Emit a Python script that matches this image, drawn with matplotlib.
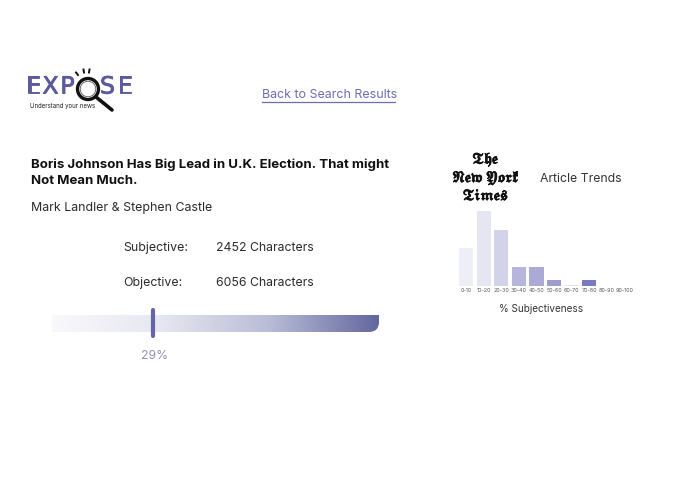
import numpy as np
import matplotlib
matplotlib.use('Agg')
import matplotlib.pyplot as plt
import matplotlib.patheffects as pe
from matplotlib.colors import LinearSegmentedColormap
from matplotlib.patches import Circle, PathPatch
from matplotlib.path import Path

W, H = 695, 494

bins = ['0-10', '10-20', '20-30', '30-40', '40-50', '50-60', '60-70', '70-80', '80-90', '90-100']
counts = [6, 12, 9, 3, 3, 1, 0.1, 1, 0, 0]
bar_colors = ['#eeeef6', '#e6e6f3', '#d2d2e8', '#b6b6dc', '#abaad6', '#9d9dcf', '#e0e0ee', '#7a7abf', '#ffffff', '#ffffff']

subjective_chars = 2452
objective_chars = 6056
subjective_pct = 29
gradient_stops = ['#f9f9fc', '#e6e7f0', '#b9bcd6', '#62679f']

title = 'Boris Johnson Has Big Lead in U.K. Election. That might\nNot Mean Much.'
authors = 'Mark Landler & Stephen Castle'

plt.rcParams['font.family'] = ['Inter', 'DejaVu Sans']
plt.rcParams['mathtext.fontset'] = 'stix'
purple = '#5a5a9c'
dark = '#2b2b2b'

fig = plt.figure(figsize=(W / 100, H / 100), dpi=100)
ax = fig.add_axes([0, 0, 1, 1])
ax.set_xlim(0, W)
ax.set_ylim(H, 0)
ax.axis('off')

# logo letters are spaced out by hand
logo_stroke = [pe.withStroke(linewidth=0.6, foreground=purple)]
for x, letter in zip([33.5, 50.5, 67.5, 107.5, 125], 'EXPSE'):
    ax.text(x, 86.5, letter, fontsize=17, color=purple, va='center', ha='center', family='DejaVu Sans', path_effects=logo_stroke)
ax.add_patch(Circle((88, 89), 10.5, fc='white', ec='#111111', lw=2.4, zorder=3))
ax.add_patch(Circle((88, 89), 7.8, fill=False, ec='#555555', lw=0.6, zorder=3))
ax.plot([96, 112], [97, 110], color='#111111', lw=2.6, solid_capstyle='round')
for x0, y0, x1, y1 in [(78, 75, 76, 72.5), (84, 72.5, 83.5, 69.5), (89, 72.5, 89.5, 69.5)]:
    ax.plot([x0, x1], [y0, y1], color='#111111', lw=1.4)
ax.text(30, 106, 'Understand your news', fontsize=4.4, color='#222222', va='center', ha='left')

# link
ax.text(261.5, 95, 'Back to Search Results', fontsize=8.95, color='#6d6db0', va='center', ha='left')
ax.plot([262, 395], [102.5, 102.5], color='#6d6db0', lw=0.9)

# article text
ax.text(31, 172.5, title, fontsize=9.5, fontweight='bold', color='#111111', va='center', ha='left', linespacing=1.45)
ax.text(31, 208, authors, fontsize=8.95, color=dark, va='center', ha='left')
ax.text(123, 248, 'Subjective:', fontsize=8.9, color=dark, va='center', ha='left')
ax.text(216, 248, f'{subjective_chars} Characters', fontsize=8.8, color=dark, va='center', ha='left')
ax.text(123, 282.5, 'Objective:', fontsize=8.9, color=dark, va='center', ha='left')
ax.text(216, 282.5, f'{objective_chars} Characters', fontsize=8.8, color=dark, va='center', ha='left')

# gradient meter, only the lower right corner is rounded
left, right, top, bottom, r = 52, 379, 315, 332, 10
verts = [(left, top), (right, top), (right, bottom - r), (right, bottom), (right - r, bottom), (left, bottom), (left, top)]
codes = [Path.MOVETO, Path.LINETO, Path.LINETO, Path.CURVE3, Path.CURVE3, Path.LINETO, Path.CLOSEPOLY]
shape = PathPatch(Path(verts, codes), fc='none', ec='none')
ax.add_patch(shape)
cmap = LinearSegmentedColormap.from_list('meter', gradient_stops)
img = ax.imshow(np.linspace(0, 1, 256).reshape(1, -1), cmap=cmap, extent=(left, right, bottom, top), aspect='auto', zorder=1)
img.set_clip_path(shape)
ax.set_xlim(0, W)
ax.set_ylim(H, 0)

marker_x = left + (right - left) * (subjective_pct + 2) / 100
ax.plot([marker_x, marker_x], [310, 336], color='#6464a6', lw=3, solid_capstyle='round', zorder=2)
ax.text(155, 356, f'{subjective_pct}%', fontsize=8.8, color='#8f8fc0', va='center', ha='center')

# NYT masthead in fraktur from the stix math font
stroke = [pe.withStroke(linewidth=0.6, foreground='#111111')]
for y, line in zip([160, 178, 196], [r'$\mathfrak{The}$', r'$\mathfrak{New\ York}$', r'$\mathfrak{Times}$']):
    ax.text(486, y, line, fontsize=10.8, color='#111111', va='center', ha='center', path_effects=stroke)
ax.text(581, 178.5, 'Article Trends', fontsize=8.8, color='#333333', va='center', ha='center')

# histogram
bar_ax = fig.add_axes([457 / W, 1 - 286 / H, 177 / W, 75 / H])
bar_ax.bar(range(len(bins)), counts, width=0.8, color=bar_colors)
bar_ax.set_xlim(-0.51, 9.53)
bar_ax.set_ylim(0, 12)
bar_ax.set_xticks(range(len(bins)))
bar_ax.set_xticklabels(bins, fontsize=3.8, color='#555555')
bar_ax.tick_params(axis='x', length=0, pad=1.5)
bar_ax.set_yticks([])
for s in bar_ax.spines.values():
    s.set_visible(False)
bar_ax.patch.set_alpha(0)

ax.text(541, 308.5, '% Subjectiveness', fontsize=7.2, color='#333333', va='center', ha='center')

fig.savefig('out.png', dpi=100)
